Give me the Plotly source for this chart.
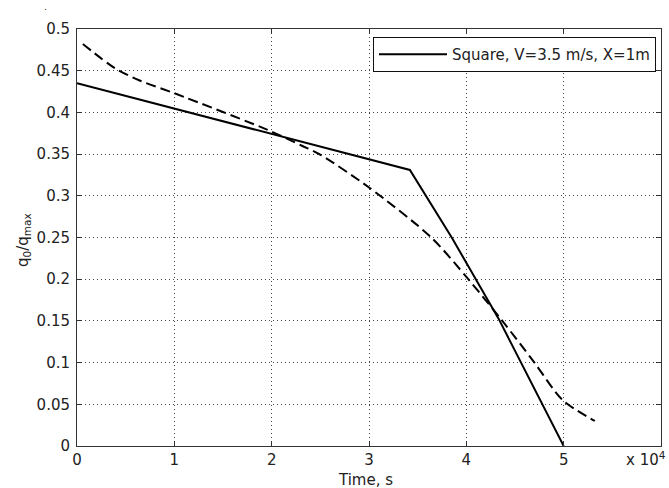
import plotly.graph_objects as go

# Time in seconds; the axis shows it scaled by 1e4
solid_t = [0, 34200, 38500, 43300, 50000]
solid_q = [0.435, 0.331, 0.25, 0.153, 0.0]

dashed_t = [600, 3900, 6500, 10000, 20000, 23100, 24900, 30000, 36400,
            40200, 43700, 47000, 49900, 53200]
dashed_q = [0.482, 0.453, 0.438, 0.423, 0.377, 0.360, 0.350, 0.310, 0.250,
            0.200, 0.150, 0.100, 0.055, 0.030]

x_ticks = [0, 10000, 20000, 30000, 40000, 50000]
x_tick_text = ["0", "1", "2", "3", "4", "5"]
y_ticks = [0, 0.05, 0.1, 0.15, 0.2, 0.25, 0.3, 0.35, 0.4, 0.45, 0.5]
y_tick_text = ["0", "0.05", "0.1", "0.15", "0.2", "0.25", "0.3", "0.35", "0.4", "0.45", "0.5"]

FONT = "DejaVu Sans"
TXT = "#222222"
AX = "#333333"

fig = go.Figure()
fig.add_trace(go.Scatter(
    x=solid_t, y=solid_q, mode="lines",
    line=dict(color="black", width=2),
    name="Square, V=3.5 m/s, X=1m", showlegend=True,
))
fig.add_trace(go.Scatter(
    x=dashed_t, y=dashed_q, mode="lines",
    line=dict(color="black", width=2, dash="10px,5px", shape="spline", smoothing=0.8),
    showlegend=False,
))

axis_common = dict(
    showline=True, linecolor=AX, linewidth=1, mirror="ticks",
    ticks="inside", ticklen=5, tickcolor=AX, tickwidth=1,
    showgrid=True, gridcolor="#444444", gridwidth=1, griddash="1px,3px",
    zeroline=False,
    tickfont=dict(family=FONT, size=15, color=TXT),
)

fig.update_xaxes(range=[0, 60000], tickvals=x_ticks, ticktext=x_tick_text, **axis_common)
fig.update_yaxes(range=[0, 0.5], tickvals=y_ticks, ticktext=y_tick_text,
                 ticklabelstandoff=3, **axis_common)

W, H = 669, 488
L, R, T, B = 77, 8, 29, 42
pw, ph = W - L - R, H - T - B


def px_x(p):
    return (p - L) / pw


def px_y(p):
    return 1 - (p - T) / ph


fig.update_layout(
    width=W, height=H,
    margin=dict(l=L, r=R, t=T, b=B),
    paper_bgcolor="white", plot_bgcolor="white",
    font=dict(family=FONT, size=15, color=TXT),
    legend=dict(
        x=px_x(656), y=px_y(37), xanchor="right", yanchor="top",
        bgcolor="white", bordercolor="#111111", borderwidth=1,
        font=dict(family=FONT, size=15, color=TXT),
        itemwidth=68,
    ),
    annotations=[
        dict(text="Time, s", xref="paper", yref="paper",
             x=px_x(365), y=px_y(480), xanchor="center", yanchor="middle",
             showarrow=False, font=dict(family=FONT, size=15, color=TXT)),
        dict(text="q<sub>0</sub>/q<sub>max</sub>", xref="paper", yref="paper",
             x=px_x(24), y=px_y(240), xanchor="center", yanchor="middle",
             textangle=-90, showarrow=False,
             font=dict(family=FONT, size=15, color=TXT)),
        dict(text="x 10<sup>4</sup>", xref="paper", yref="paper",
             x=px_x(668), y=px_y(459), xanchor="right", yanchor="middle",
             showarrow=False, font=dict(family=FONT, size=15, color=TXT)),
        dict(text=".", xref="paper", yref="paper",
             x=px_x(45), y=px_y(0), xanchor="center", yanchor="top",
             showarrow=False, font=dict(family=FONT, size=9, color=TXT)),
    ],
)

fig.write_html("out.html")
